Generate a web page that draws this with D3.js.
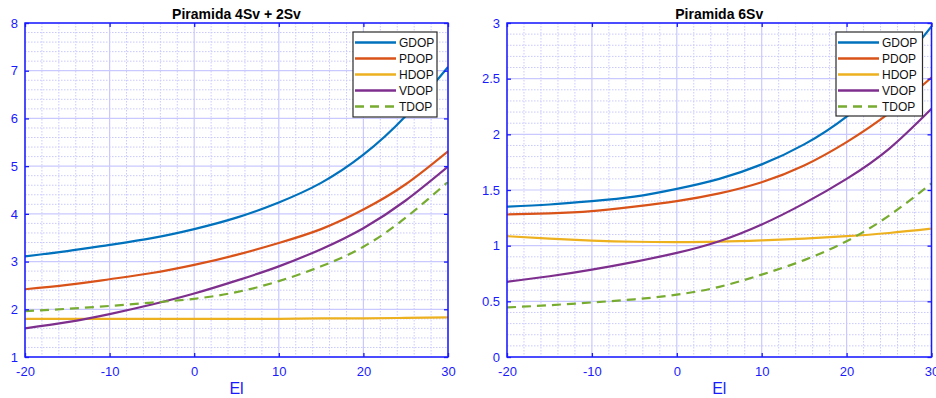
<!DOCTYPE html>
<html>
<head>
<meta charset="utf-8">
<script src="https://cdn.jsdelivr.net/npm/d3@7"></script>
<style>
  html, body { margin: 0; padding: 0; background: #fff; }
  svg { display: block; font-family: "Liberation Sans", Arial, Helvetica, sans-serif; }
</style>
</head>
<body>
<svg id="chart" width="936" height="398"></svg>
<script>
// ---------- data ----------
const elevation = [-20, -15, -10, -5, 0, 5, 10, 15, 20, 25, 30];
const seriesNames = ["GDOP", "PDOP", "HDOP", "VDOP", "TDOP"];

// Panel 1: Piramida 4Sv + 2Sv
const left_GDOP = [3.11, 3.22, 3.35, 3.49, 3.68, 3.92, 4.24, 4.65, 5.24, 6.05, 7.08];
const left_PDOP = [2.42, 2.51, 2.63, 2.76, 2.93, 3.14, 3.39, 3.68, 4.09, 4.62, 5.31];
const left_HDOP = [1.80, 1.80, 1.80, 1.80, 1.80, 1.80, 1.80, 1.81, 1.81, 1.82, 1.83];
const left_VDOP = [1.60, 1.73, 1.90, 2.10, 2.33, 2.60, 2.90, 3.26, 3.70, 4.28, 4.99];
const left_TDOP = [1.96, 2.01, 2.07, 2.14, 2.22, 2.36, 2.59, 2.90, 3.31, 3.92, 4.67];

// Panel 2: Piramida 6Sv
const right_GDOP = [1.35, 1.37, 1.40, 1.44, 1.51, 1.60, 1.73, 1.91, 2.16, 2.51, 2.97];
const right_PDOP = [1.28, 1.29, 1.31, 1.35, 1.40, 1.47, 1.57, 1.72, 1.93, 2.19, 2.51];
const right_HDOP = [1.085, 1.064, 1.046, 1.035, 1.032, 1.036, 1.048, 1.064, 1.085, 1.114, 1.153];
const right_VDOP = [0.675, 0.725, 0.785, 0.855, 0.935, 1.04, 1.19, 1.38, 1.60, 1.87, 2.23];
const right_TDOP = [0.445, 0.465, 0.49, 0.518, 0.56, 0.63, 0.74, 0.87, 1.04, 1.27, 1.56];

const xTicks = [-20, -10, 0, 10, 20, 30];
const leftYTicks = [1, 2, 3, 4, 5, 6, 7, 8];
const rightYTicks = [0, 0.5, 1, 1.5, 2, 2.5, 3];

const titles = ["Piramida 4Sv + 2Sv", "Piramida 6Sv"];
const xLabel = "El";

// ---------- style ----------
const colors = ["#0072BD", "#D95319", "#EDB120", "#7E2F8E", "#77AC30"];
const axisColor = "#1a1aff";
const gridColor = "#c9c9ff";

const svg = d3.select("#chart");

const panels = [
  { title: titles[0], x0: 25, x1: 448, yDomain: [1, 8], yTicks: leftYTicks, yMinorStep: 0.2,
    series: [left_GDOP, left_PDOP, left_HDOP, left_VDOP, left_TDOP], legend: { x: 353, y: 32, w: 84, h: 85 } },
  { title: titles[1], x0: 507, x1: 931.5, yDomain: [0, 3], yTicks: rightYTicks, yMinorStep: 0.1,
    series: [right_GDOP, right_PDOP, right_HDOP, right_VDOP, right_TDOP], legend: { x: 836, y: 32, w: 86.5, h: 84 } }
];
const yTop = 23, yBot = 357;

panels.forEach((p, pi) => {
  const x = d3.scaleLinear().domain([-20, 30]).range([p.x0, p.x1]);
  const y = d3.scaleLinear().domain(p.yDomain).range([yBot, yTop]);
  const g = svg.append("g");

  const clipId = "clip" + pi;
  svg.append("clipPath").attr("id", clipId)
    .append("rect").attr("x", p.x0).attr("y", yTop).attr("width", p.x1 - p.x0).attr("height", yBot - yTop);

  // minor grid
  const xMinor = d3.range(-20, 30.001, 2).filter(v => v % 10 !== 0);
  const yMinor = d3.range(p.yDomain[0], p.yDomain[1] + 1e-6, p.yMinorStep)
    .filter(v => !p.yTicks.some(t => Math.abs(t - v) < 1e-6));
  g.selectAll(".xminor").data(xMinor).join("line")
    .attr("x1", d => x(d)).attr("x2", d => x(d)).attr("y1", yTop).attr("y2", yBot)
    .attr("stroke", gridColor).attr("stroke-width", 1).attr("stroke-dasharray", "1.5,1.5");
  g.selectAll(".yminor").data(yMinor).join("line")
    .attr("x1", p.x0).attr("x2", p.x1).attr("y1", d => y(d)).attr("y2", d => y(d))
    .attr("stroke", gridColor).attr("stroke-width", 1).attr("stroke-dasharray", "1.5,1.5");

  // major grid
  g.selectAll(".xmajor").data(xTicks).join("line")
    .attr("x1", d => x(d)).attr("x2", d => x(d)).attr("y1", yTop).attr("y2", yBot)
    .attr("stroke", gridColor).attr("stroke-width", 1.2);
  g.selectAll(".ymajor").data(p.yTicks).join("line")
    .attr("x1", p.x0).attr("x2", p.x1).attr("y1", d => y(d)).attr("y2", d => y(d))
    .attr("stroke", gridColor).attr("stroke-width", 1.2);

  // curves
  const line = d3.line().x((d, i) => x(elevation[i])).y(d => y(d)).curve(d3.curveNatural);
  p.series.forEach((s, si) => {
    g.append("path").datum(s)
      .attr("d", line)
      .attr("fill", "none")
      .attr("stroke", colors[si])
      .attr("stroke-width", 2.2)
      .attr("stroke-dasharray", si === 4 ? "9,6" : null)
      .attr("clip-path", `url(#${clipId})`);
  });

  // axes (box with inward ticks on all sides)
  const tickLen = 4;
  const fmt = d => String(d);
  const xAxisB = d3.axisBottom(x).tickValues(xTicks).tickSizeInner(-tickLen).tickSizeOuter(0).tickPadding(10).tickFormat(fmt);
  const xAxisT = d3.axisTop(x).tickValues(xTicks).tickSizeInner(-tickLen).tickSizeOuter(0).tickFormat("");
  const yAxisL = d3.axisLeft(y).tickValues(p.yTicks).tickSizeInner(-tickLen).tickSizeOuter(0).tickPadding(7).tickFormat(fmt);
  const yAxisR = d3.axisRight(y).tickValues(p.yTicks).tickSizeInner(-tickLen).tickSizeOuter(0).tickFormat("");

  const axes = [
    g.append("g").attr("transform", `translate(0,${yBot})`).call(xAxisB),
    g.append("g").attr("transform", `translate(0,${yTop})`).call(xAxisT),
    g.append("g").attr("transform", `translate(${p.x0},0)`).call(yAxisL),
    g.append("g").attr("transform", `translate(${p.x1},0)`).call(yAxisR)
  ];
  axes.forEach(a => {
    a.select(".domain").remove();
    a.selectAll(".tick line").attr("stroke", axisColor).attr("stroke-width", 1.3);
    a.selectAll(".tick text").attr("fill", axisColor)
      .style("font-size", "13px").style("font-family", "'Liberation Sans', Arial, sans-serif");
  });

  // legend
  const L = p.legend;
  const lg = g.append("g");
  lg.append("rect").attr("x", L.x).attr("y", L.y).attr("width", L.w).attr("height", L.h)
    .attr("fill", "#fff").attr("stroke", "#2b2b2b").attr("stroke-width", 1.2);
  seriesNames.forEach((name, i) => {
    const cy = L.y + 10.5 + i * 16;
    lg.append("line").attr("x1", L.x + 2).attr("x2", L.x + 43).attr("y1", cy).attr("y2", cy)
      .attr("stroke", colors[i]).attr("stroke-width", 2.5)
      .attr("stroke-dasharray", i === 4 ? "9,6" : null);
    lg.append("text").attr("x", L.x + 46).attr("y", cy).attr("dy", "0.36em")
      .attr("fill", "#111").style("font-size", "12px").text(name);
  });

  // axes box
  g.append("rect").attr("x", p.x0).attr("y", yTop).attr("width", p.x1 - p.x0).attr("height", yBot - yTop)
    .attr("fill", "none").attr("stroke", axisColor).attr("stroke-width", 1.5);

  // title
  g.append("text").attr("x", (p.x0 + p.x1) / 2).attr("y", 18.5).attr("text-anchor", "middle")
    .attr("fill", "#000").style("font-size", "14px").style("font-weight", "bold").text(p.title);

  // x label
  g.append("text").attr("x", (p.x0 + p.x1) / 2).attr("y", 394).attr("text-anchor", "middle")
    .attr("fill", axisColor).style("font-size", "16px").text(xLabel);
});
</script>
</body>
</html>
